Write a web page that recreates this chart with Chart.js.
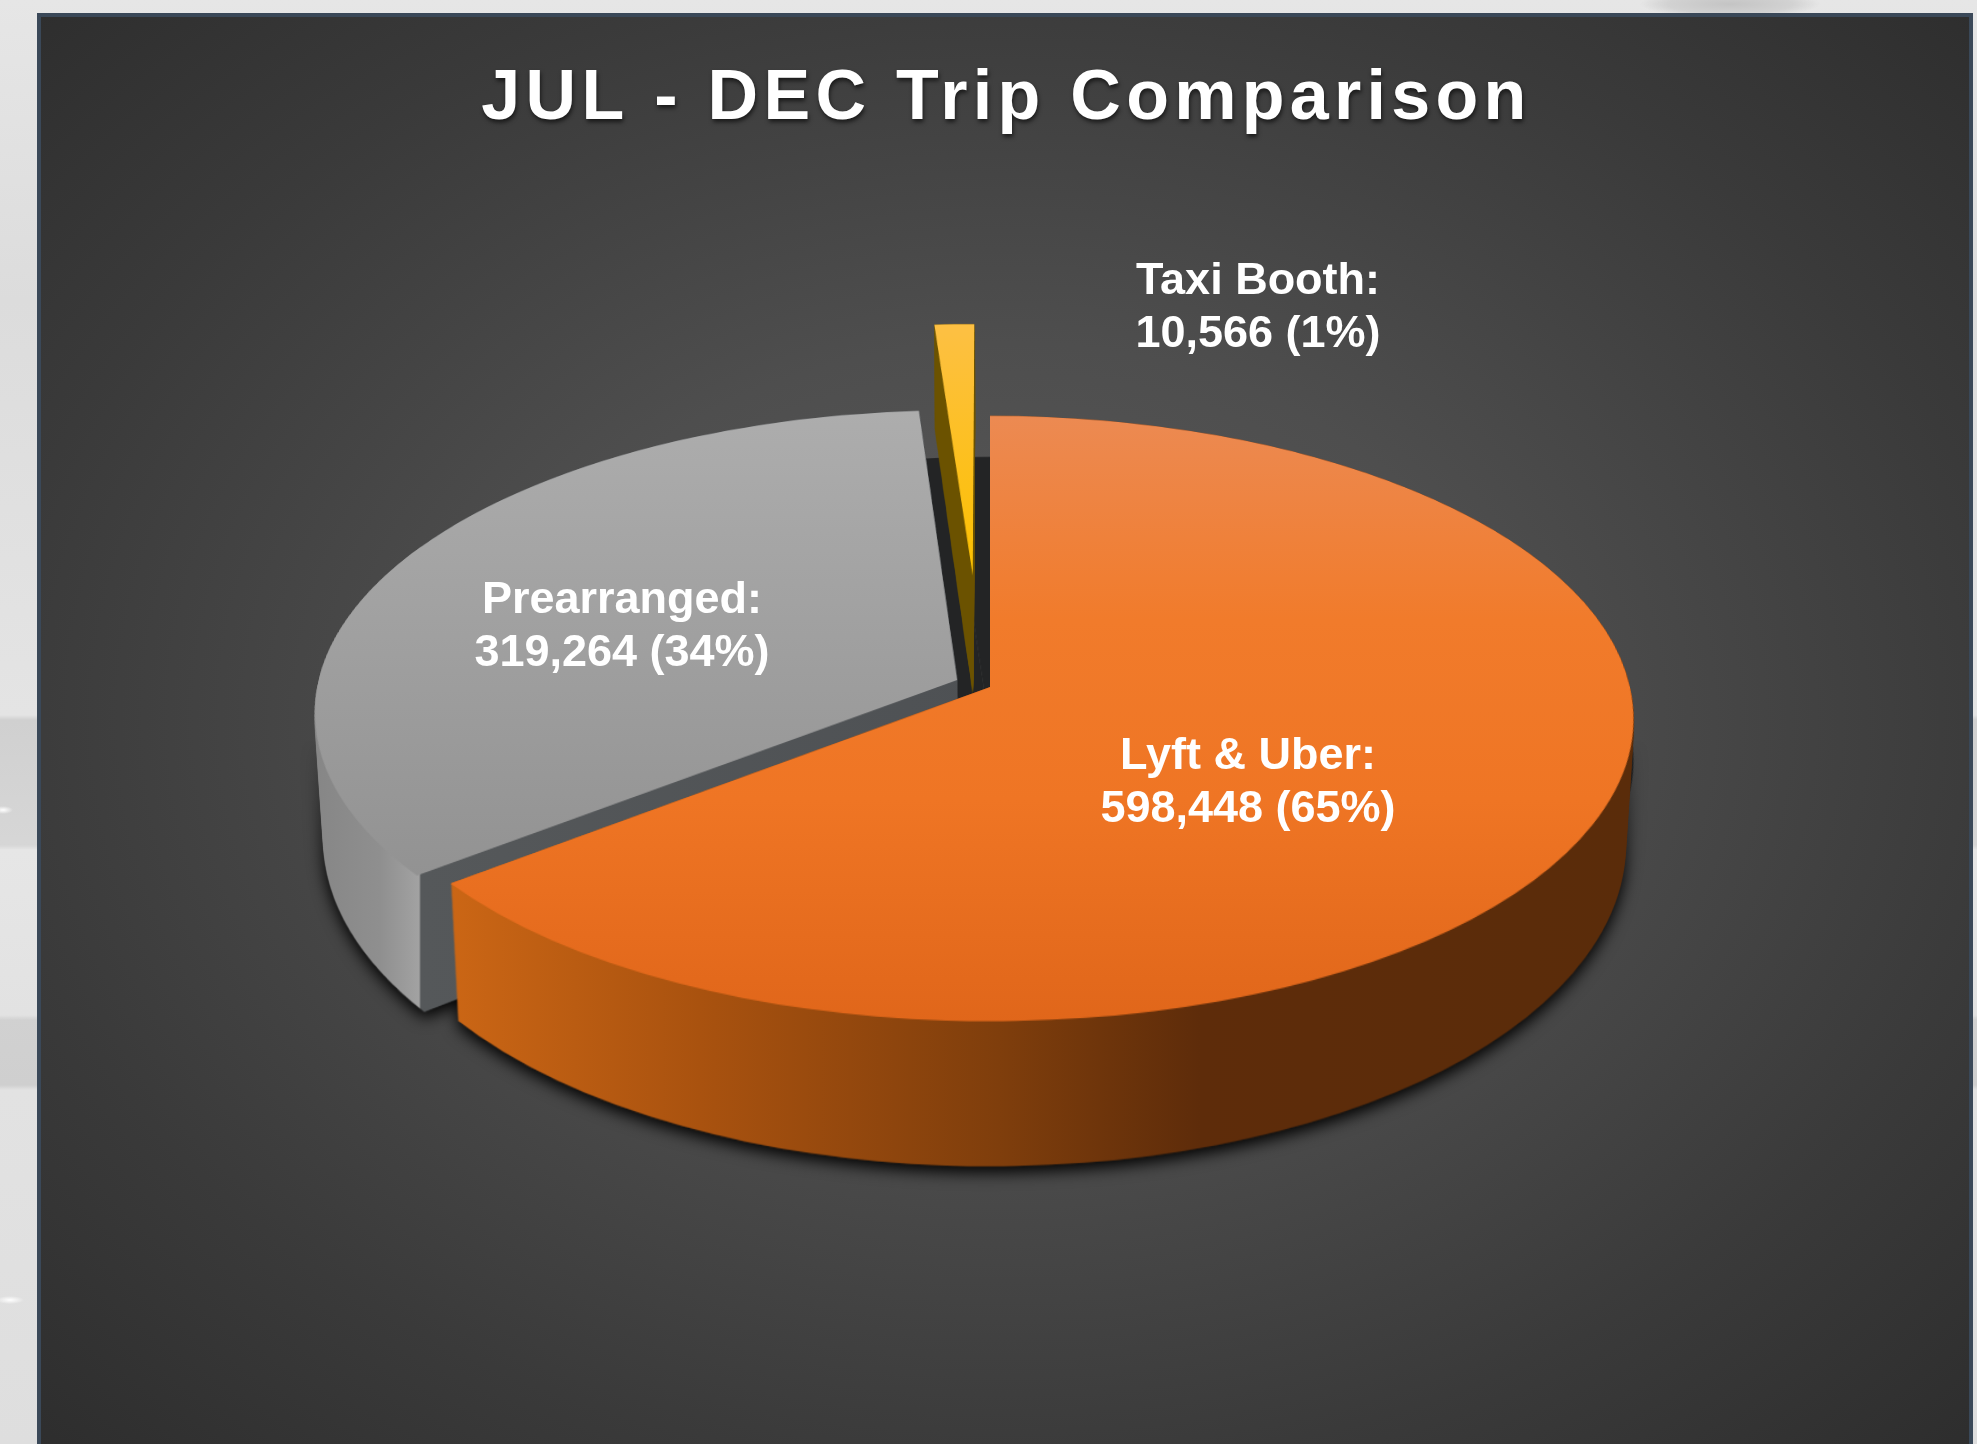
<!DOCTYPE html>
<html>
<head>
<meta charset="utf-8">
<title>JUL - DEC Trip Comparison</title>
<script src="https://cdn.jsdelivr.net/npm/chart.js@4/dist/chart.umd.js"></script>
<style>
  html, body { margin: 0; height: 100%; overflow: hidden; }
  body {
    background:
      radial-gradient(ellipse 10px 4px at 3px 810px, #ffffff 0, transparent 100%),
      radial-gradient(ellipse 14px 4px at 10px 1300px, #ffffff 0, transparent 100%),
      linear-gradient(180deg, transparent 845px, #e6e6e6 850px, #e2e2e2 1015px, transparent 1020px),
      radial-gradient(ellipse 90px 14px at 1730px 4px, #c4c4c4 0, #d2d2d2 70%, transparent 100%),
      linear-gradient(180deg, #e6e6e6 0, #dcdcdc 300px, #e4e4e4 715px, #d0d0d0 720px, #d6d6d6 840px, #cfcfcf 1085px, #e2e2e2 1090px, #dedede 1444px);
  }
  #panel {
    position: absolute; left: 37px; top: 13px; width: 1928px; height: 1431px;
    border: 4px solid #3a4858; border-bottom: 0;
    background: radial-gradient(ellipse 75% 75% at 50% 49%, #5a5a5a 0%, #4e4e4e 35%, #3a3a3a 70%, #2b2b2b 100%);
  }
  #trips { position: absolute; left: 0; top: 0; }
</style>
</head>
<body>
<div id="panel"></div>
<canvas id="trips" width="1977" height="1444"></canvas>
<script>
const categories = ['Lyft & Uber', 'Prearranged', 'Taxi Booth'];
const trips = [598448, 319264, 10566];
const shareLabels = ['65%', '34%', '1%'];
const baseColors = ['#ed7d31', '#a5a5a5', '#ffc000'];

// how far each slice is pulled out of the pie, flat pixels
const explodeX = [0, -33, -18];
const explodeY = [0, -15, -248];

// label centres, in page pixels
const labelPos = [[1248, 757], [622, 601], [1258, 282]];

// top face and wall shading, [position, colour], top runs down the page, wall across it
const topShade = [
  [[416, '#ec8a52'], [620, '#f17b2b'], [800, '#ef7524'], [1025, '#e0661a']],
  [[410, '#adadad'], [880, '#929292']],
  [[327, '#fdc043'], [570, '#fcc000']]
];
const wallShade = [
  [[450, '#cb6615'], [700, '#a9520f'], [1000, '#7f3e0c'], [1200, '#5e2c0a'], [1640, '#5a2c0a']],
  [[315, '#868686'], [380, '#8f8f8f'], [419, '#a2a2a2'], [421, '#55585a'], [990, '#4e5154']],
  [[920, '#6b5200'], [990, '#6b5200']]
];

// camera numbers for the tilted disc
const W = 1977, H = 1444;
const hubX = 990, hubY = 687;    // where the pie centre lands on the page
const radius = 640;
const squash = 0.468;            // flat circle to ellipse
const tilt = 0.1042;             // perspective strength
const rowGain = 299.4;
const depth = 125;
const wallShrink = 0.013;
const wallStretch = 0.06;
const srcH = 1000, srcY = 500;

function newLayer(w, h) {
  const c = document.createElement('canvas');
  c.width = w; c.height = h;
  return c;
}

// draw arcs flat into a layer and pull it row by row through the perspective
function warpArcs(arcs, color, together) {
  const src = newLayer(W, srcH), sc = src.getContext('2d');
  arcs.forEach(function (arc) {
    const i = arc.$context.dataIndex;
    const ox = together ? 0 : explodeX[i];
    const oy = together ? 0 : explodeY[i];
    sc.setTransform(1, 0, 0, squash, hubX - arc.x + ox, srcY + (oy - arc.y) * squash);
    const saved = arc.options;
    arc.options = Object.assign({}, saved, { backgroundColor: color });
    arc.draw(sc);
    arc.options = saved;
  });
  const out = newLayer(W, H), oc = out.getContext('2d');
  for (let y = 200; y < 1200; y++) {
    const f = y - hubY;
    const u = f / (rowGain + tilt * f);
    const u2 = (f + 1) / (rowGain + tilt * (f + 1));
    const s = 1 / (1 - tilt * u);
    const sy = srcY + u * radius * squash;
    const sh = (u2 - u) * radius * squash;
    if (sy < 0 || sy + sh > srcH) continue;
    oc.drawImage(src, 0, sy, W, sh, hubX - hubX * s, y, W * s, 1);
  }
  return out;
}

function shade(layer, stops, vertical) {
  const c = layer.getContext('2d');
  const a = stops[0][0], b = stops[stops.length - 1][0];
  const g = vertical ? c.createLinearGradient(0, a, 0, b) : c.createLinearGradient(a, 0, b, 0);
  stops.forEach(function (st) { g.addColorStop((st[0] - a) / (b - a), st[1]); });
  c.globalCompositeOperation = 'source-in';
  c.fillStyle = g;
  c.fillRect(0, 0, W, H);
  return layer;
}

function stampWall(shape) {
  const out = newLayer(W, H), c = out.getContext('2d');
  for (let d = depth; d >= 0; d--) {
    const kx = 1 - wallShrink * d / depth;
    const ky = 1 + wallStretch * d / depth;
    c.drawImage(shape, hubX - hubX * kx, hubY - hubY * ky + d, W * kx, H * ky);
  }
  return out;
}

const pie3d = {
  id: 'pie3d',
  beforeDraw(chart) {
    const ctx = chart.ctx;
    ctx.letterSpacing = '5.3px';
    ctx.shadowColor = 'rgba(0,0,0,0.6)';
    ctx.shadowBlur = 4;
    ctx.shadowOffsetX = 1;
    ctx.shadowOffsetY = 3;
  },
  beforeDatasetsDraw(chart) {
    const ctx = chart.ctx;
    ctx.letterSpacing = '0px';
    ctx.shadowColor = 'transparent';
    const arcs = chart.getDatasetMeta(0).data;

    // dark floor showing through the gaps between the slices
    ctx.drawImage(warpArcs(arcs, '#232425', true), 0, 41);

    const order = [2, 1, 0];
    const walls = order.map(function (i) { return stampWall(warpArcs([arcs[i]], '#000')); });

    // soft shadow under the walls, faded out towards the rim
    const shadow = newLayer(W, H), sh = shadow.getContext('2d');
    sh.filter = 'blur(8px)';
    walls.forEach(function (wall, n) {
      if (order[n] !== 2) sh.drawImage(wall, 0, 6);
    });
    sh.filter = 'none';
    const fade = sh.createLinearGradient(0, 740, 0, 880);
    fade.addColorStop(0, 'rgba(0,0,0,0)');
    fade.addColorStop(1, 'rgba(0,0,0,1)');
    sh.globalCompositeOperation = 'destination-in';
    sh.fillStyle = fade;
    sh.fillRect(0, 0, W, H);
    ctx.drawImage(shadow, 0, 0);

    order.forEach(function (i, n) {
      ctx.drawImage(shade(walls[n], wallShade[i], false), 0, 0);
      ctx.drawImage(shade(warpArcs([arcs[i]], baseColors[i]), topShade[i], true), 0, 0);
    });
    return false;
  },
  afterDraw(chart) {
    const ctx = chart.ctx;
    ctx.save();
    ctx.font = 'bold 45px "Liberation Sans", Arial, sans-serif';
    ctx.fillStyle = '#ffffff';
    ctx.textAlign = 'center';
    ctx.textBaseline = 'middle';
    categories.forEach(function (name, i) {
      const p = labelPos[i];
      ctx.fillText(name + ':', p[0], p[1]);
      ctx.fillText(trips[i].toLocaleString('en-US') + ' (' + shareLabels[i] + ')', p[0], p[1] + 53);
    });
    ctx.restore();
  }
};

new Chart(document.getElementById('trips'), {
  type: 'pie',
  data: {
    labels: categories,
    datasets: [{
      data: trips,
      backgroundColor: baseColors,
      borderWidth: 0,
      clip: false
    }]
  },
  options: {
    responsive: false,
    animation: false,
    radius: radius,
    layout: { padding: { left: 36 } },
    plugins: {
      legend: { display: false },
      tooltip: { enabled: false },
      title: {
        display: true,
        text: 'JUL - DEC Trip Comparison',
        color: '#ffffff',
        font: { family: '"Liberation Sans", Arial, sans-serif', size: 70, weight: 'bold' },
        padding: { top: 58, bottom: 10 }
      }
    }
  },
  plugins: [pie3d]
});
</script>
</body>
</html>
